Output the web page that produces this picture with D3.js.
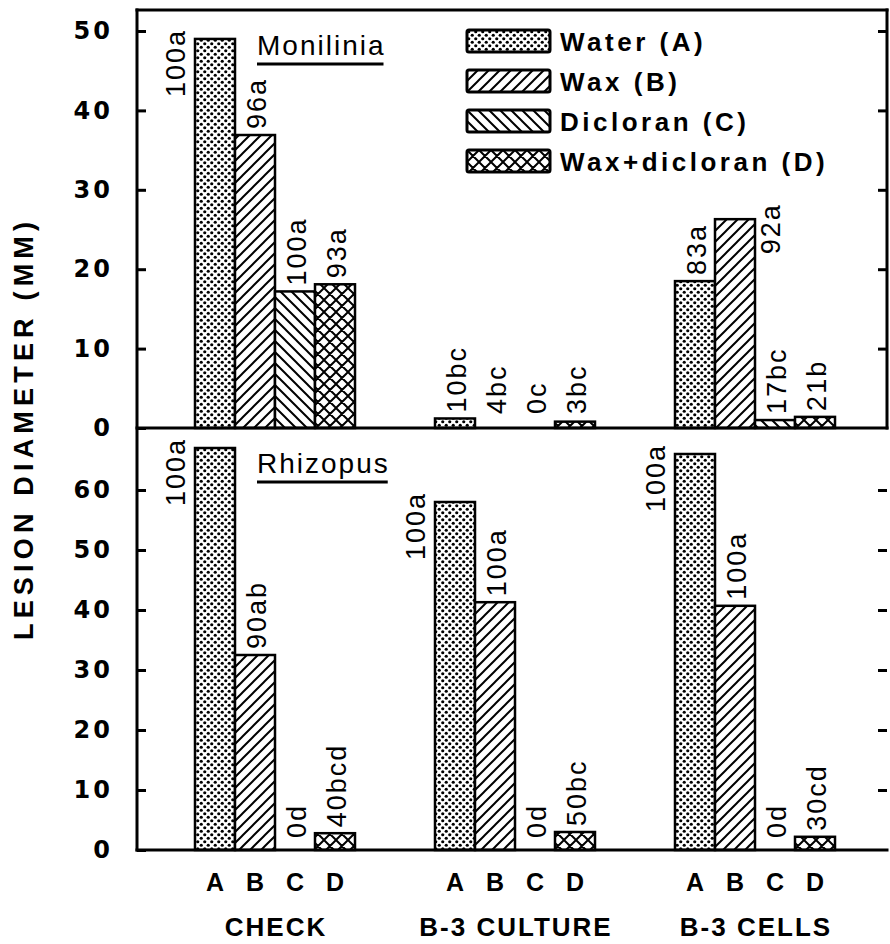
<!DOCTYPE html>
<html>
<head>
<meta charset="utf-8">
<script src="https://cdn.jsdelivr.net/npm/d3@7/dist/d3.min.js"></script>
<style>
body { margin: 0; background: #fff; }
text { fill: #000; }
.bar-label { font-family: "Liberation Sans", Arial, sans-serif; font-size: 27px; letter-spacing: 2px; }
</style>
</head>
<body>
<div id="chart"></div>
<script>
//DATA
var groups = ["CHECK", "B-3 CULTURE", "B-3 CELLS"];
var treatments = ["A", "B", "C", "D"];
var treatmentNames = ["Water (A)", "Wax (B)", "Dicloran (C)", "Wax+dicloran (D)"];

var moniliniaValues = [[49.0, 36.9, 17.2, 18.1], [1.2, 0, 0, 0.8], [18.5, 26.3, 1.0, 1.4]];
var moniliniaLabels = [["100a", "96a", "100a", "93a"], ["10bc", "4bc", "0c", "3bc"], ["83a", "92a", "17bc", "21b"]];

var rhizopusValues = [[67.0, 32.5, 0, 2.8], [58.0, 41.3, 0, 3.0], [66.0, 40.7, 0, 2.2]];
var rhizopusLabels = [["100a", "90ab", "0d", "40bcd"], ["100a", "100a", "0d", "50bc"], ["100a", "100a", "0d", "30cd"]];

var moniliniaTicks = [0, 10, 20, 30, 40, 50];
var rhizopusTicks = [0, 10, 20, 30, 40, 50, 60];

//DIMENSIONS
var width = 890, height = 944;
var axisX = 137, rightX = 887;
var frameTop = 10, dividerY = 428, baseY = 850;
var boldFont = '"Liberation Sans", Arial, sans-serif';

var svg = d3.select("#chart").append("svg")
  .attr("width", width)
  .attr("height", height);

//FILL PATTERNS
var defs = svg.append("defs");

var dots = defs.append("pattern").attr("id", "pat-A")
  .attr("patternUnits", "userSpaceOnUse").attr("width", 7).attr("height", 7);
dots.append("rect").attr("width", 7).attr("height", 7).attr("fill", "#fff");
dots.append("circle").attr("cx", 1.75).attr("cy", 1.75).attr("r", 1.6).attr("fill", "#000");
dots.append("circle").attr("cx", 5.25).attr("cy", 5.25).attr("r", 1.6).attr("fill", "#000");

function hatch(id, size, d) {
  var p = defs.append("pattern").attr("id", id)
    .attr("patternUnits", "userSpaceOnUse").attr("width", size).attr("height", size);
  p.append("rect").attr("width", size).attr("height", size).attr("fill", "#fff");
  p.append("path").attr("d", d).attr("stroke", "#000").attr("stroke-width", 2).attr("fill", "none");
}
hatch("pat-B", 11, "M-1,1 l2,-2 M0,11 l11,-11 M10,12 l2,-2");
hatch("pat-C", 11, "M-1,10 l2,2 M0,0 l11,11 M10,-1 l2,2");
hatch("pat-D", 12, "M-1,1 l2,-2 M0,12 l12,-12 M11,13 l2,-2 M-1,11 l2,2 M0,0 l12,12 M11,-1 l2,2");

//SCALES
var xGroup = d3.scaleBand()
  .domain(groups)
  .range([155, 875])
  .paddingInner(1 / 3)
  .paddingOuter(1 / 6);

var xBar = d3.scaleBand()
  .domain(treatments)
  .range([0, xGroup.bandwidth()]);

var yTop = d3.scaleLinear().domain([0, 50]).range([dividerY, 31]);
var yBottom = d3.scaleLinear().domain([0, 60]).range([baseY, 490]);

//LEGEND
var legend = svg.append("g").attr("transform", "translate(467, 30)");
var rows = legend.selectAll("g").data(treatments).enter().append("g")
  .attr("transform", function(d, i) { return "translate(0," + (i * 40) + ")"; });
rows.append("rect")
  .attr("width", 83).attr("height", 22).attr("rx", 2)
  .attr("fill", function(d) { return "url(#pat-" + d + ")"; })
  .attr("stroke", "#000").attr("stroke-width", 3);
rows.append("text")
  .attr("x", 93).attr("y", 21)
  .style("font-family", boldFont).style("font-weight", "bold")
  .style("font-size", "26px").style("letter-spacing", "3.5px")
  .text(function(d, i) { return treatmentNames[i]; });
var legendBox = legend.node().getBBox();
legendBox.x += 467; legendBox.y += 30;

//PANELS
var panels = [
  {name: "Monilinia", values: moniliniaValues, labels: moniliniaLabels, y: yTop, ticks: moniliniaTicks, top: frameTop, titleY: 55},
  {name: "Rhizopus", values: rhizopusValues, labels: rhizopusLabels, y: yBottom, ticks: rhizopusTicks, top: dividerY, titleY: 473}
];

panels.forEach(function(p) {
  var g = svg.append("g");
  var records = [];
  groups.forEach(function(grp, gi) {
    treatments.forEach(function(t, ti) {
      records.push({group: grp, treatment: t, value: p.values[gi][ti], label: p.labels[gi][ti]});
    });
  });

  //BARS
  g.selectAll("rect.bar")
    .data(records.filter(function(d) { return d.value > 0; }))
    .enter().append("rect")
    .attr("class", "bar")
    .attr("x", function(d) { return xGroup(d.group) + xBar(d.treatment); })
    .attr("width", xBar.bandwidth())
    .attr("y", function(d) { return p.y(d.value); })
    .attr("height", function(d) { return p.y(0) - p.y(d.value); })
    .attr("fill", function(d) { return "url(#pat-" + d.treatment + ")"; })
    .attr("stroke", "#000")
    .attr("stroke-width", 2.5);

  //VERTICAL BAR LABELS (beside the bar when there is no room above it)
  records.forEach(function(d) {
    var bx = xGroup(d.group) + xBar(d.treatment);
    var bw = xBar.bandwidth();
    var t = g.append("text").attr("class", "bar-label").text(d.label);
    var len = t.node().getComputedTextLength();
    var cx = bx + bw / 2 + 2, base = p.y(Math.max(d.value, 1)) - 6, anchor = "start";
    if (base - len < p.top + 4) {
      cx = bx - 19; base = p.y(d.value) - 10; anchor = "end";
    } else if (cx > legendBox.x && cx < legendBox.x + legendBox.width && base - len < legendBox.y + legendBox.height) {
      cx = bx + bw + 16; base = p.y(d.value) - 16; anchor = "end";
    }
    t.attr("text-anchor", anchor)
      .attr("dominant-baseline", "central")
      .attr("transform", "translate(" + cx + "," + base + ") rotate(-90)");
  });

  //PANEL TITLE, UNDERLINED
  var title = g.append("text")
    .attr("x", 257).attr("y", p.titleY)
    .style("font-family", boldFont).style("font-size", "28px").style("letter-spacing", "2px")
    .text(p.name);
  var tl = title.node().getComputedTextLength();
  g.append("line")
    .attr("x1", 257).attr("x2", 257 + tl - 2)
    .attr("y1", p.titleY + 9).attr("y2", p.titleY + 9)
    .attr("stroke", "#000").attr("stroke-width", 3);

  //AXES
  var left = svg.append("g")
    .attr("transform", "translate(" + axisX + ",0)")
    .call(d3.axisLeft(p.y).tickValues(p.ticks).tickSize(-9).tickPadding(24));
  left.select(".domain").remove();
  left.selectAll("line").attr("stroke-width", 3);
  left.selectAll("text")
    .style("font-family", '"DejaVu Sans", sans-serif').style("font-weight", "bold")
    .style("font-size", "24px").style("letter-spacing", "3px");

  var right = svg.append("g")
    .attr("transform", "translate(" + rightX + ",0)")
    .call(d3.axisRight(p.y).tickValues(p.ticks.filter(function(v) { return v > 0; })).tickSize(-9).tickFormat(""));
  right.select(".domain").remove();
  right.selectAll("line").attr("stroke-width", 3);
});

//FRAME
var frame = [
  [axisX, frameTop, axisX, baseY],
  [axisX, frameTop, rightX, frameTop],
  [rightX, frameTop, rightX, dividerY],
  [axisX, dividerY, rightX, dividerY],
  [axisX, baseY, rightX, baseY]
];
svg.selectAll("line.frame").data(frame).enter().append("line")
  .attr("class", "frame")
  .attr("x1", function(d) { return d[0]; }).attr("y1", function(d) { return d[1]; })
  .attr("x2", function(d) { return d[2]; }).attr("y2", function(d) { return d[3]; })
  .attr("stroke", "#000").attr("stroke-width", 3).attr("stroke-linecap", "square");

//X LABELS: TREATMENT LETTERS AND GROUP NAMES
groups.forEach(function(grp) {
  svg.selectAll(null).data(treatments).enter().append("text")
    .attr("x", function(d) { return xGroup(grp) + xBar(d) + xBar.bandwidth() / 2; })
    .attr("y", 891)
    .attr("text-anchor", "middle")
    .style("font-family", boldFont).style("font-weight", "bold").style("font-size", "25px")
    .text(function(d) { return d; });
});
svg.selectAll("text.group").data(groups).enter().append("text")
  .attr("class", "group")
  .attr("x", function(d) { return xGroup(d) + xGroup.bandwidth() / 2 + 1; })
  .attr("y", 936)
  .attr("text-anchor", "middle")
  .style("font-family", boldFont).style("font-weight", "bold")
  .style("font-size", "26px").style("letter-spacing", "2px")
  .text(function(d) { return d; });

//Y AXIS TITLE
svg.append("text")
  .attr("transform", "translate(24, 431) rotate(-90)")
  .attr("text-anchor", "middle")
  .attr("dominant-baseline", "central")
  .attr("textLength", 418)
  .attr("lengthAdjust", "spacing")
  .style("font-family", boldFont).style("font-weight", "bold").style("font-size", "27px")
  .text("LESION DIAMETER (MM)");
</script>
</body>
</html>
